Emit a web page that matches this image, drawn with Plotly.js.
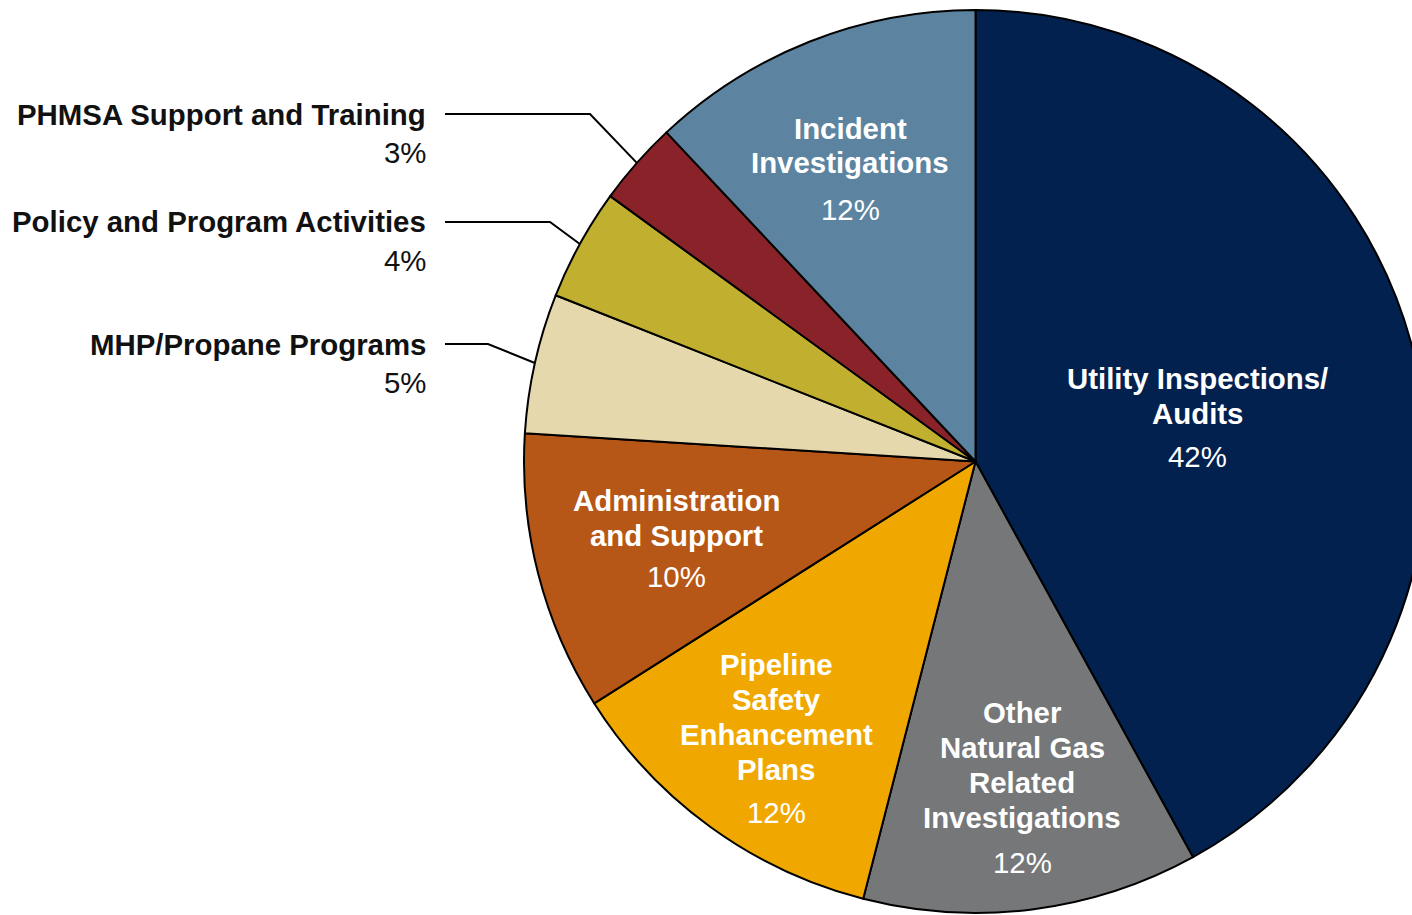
<!DOCTYPE html>
<html><head><meta charset="utf-8">
<script src="https://cdn.plot.ly/plotly-3.0.1.min.js"></script>
<style>html,body{margin:0;padding:0;overflow:hidden;background:#fff}#chart{width:1430px;height:915px}</style>
</head><body><div id="chart"></div>
<script>
// ---- data ----
const categories = ["Utility Inspections/ Audits", "Other Natural Gas Related Investigations", "Pipeline Safety Enhancement Plans", "Administration and Support", "MHP/Propane Programs", "Policy and Program Activities", "PHMSA Support and Training", "Incident Investigations"];
const labelLines = [["Utility Inspections/", "Audits"], ["Other", "Natural Gas", "Related", "Investigations"], ["Pipeline", "Safety", "Enhancement", "Plans"], ["Administration", "and Support"], ["MHP/Propane Programs"], ["Policy and Program Activities"], ["PHMSA Support and Training"], ["Incident", "Investigations"]];
const values = [42, 12, 12, 10, 5, 4, 3, 12];

// ---- styles / positions ----
const colors = ["#03214f", "#767779", "#f0a800", "#b75717", "#e6d8ad", "#c1b02f", "#8a2329", "#5c84a0"];
const labelPos = [
  {inside: true, x: 1197, y: 378, gap: 43},
  {inside: true, x: 1022, y: 712, gap: 45},
  {inside: true, x: 776, y: 664, gap: 43},
  {inside: true, x: 676, y: 500, gap: 41},
  {inside: false, x: 428, y: 344, elbowX: 488, gap: 38},
  {inside: false, x: 428, y: 222, elbowX: 550, gap: 38},
  {inside: false, x: 428, y: 114, elbowX: 590, gap: 38},
  {inside: true, x: 850, y: 128, gap: 46}
];
const W = 1430, H = 915;
const cx = 975.5, cy = 461.5, R = 451.5;
const FS = 29.4, LINE = 35;
const FONT = "Liberation Sans, Arial, sans-serif";

const px = x => x / W;
const py = y => 1 - y / H;

const total = values.reduce((a, b) => a + b, 0);
const annotations = [];
const shapes = [];
let cum = 0;
values.forEach((v, i) => {
  const mid = (cum + v / 2) / total;
  cum += v;
  const p = labelPos[i];
  const col = p.inside ? "#ffffff" : "#111111";
  const lines = labelLines[i];
  lines.forEach((t, k) => {
    annotations.push({
      x: px(p.x), y: py(p.y + k * LINE), xref: "paper", yref: "paper",
      text: "<b>" + t + "</b>", showarrow: false,
      xanchor: p.inside ? "center" : "right", yanchor: "middle",
      font: {family: FONT, size: FS, color: col}
    });
  });
  const pctY = p.y + (lines.length - 1) * LINE + p.gap;
  annotations.push({
    x: px(p.x), y: py(pctY), xref: "paper", yref: "paper",
    text: v + "%", showarrow: false,
    xanchor: p.inside ? "center" : "right", yanchor: "middle",
    font: {family: FONT, size: FS, color: col}
  });
  if (!p.inside) {
    const th = 2 * Math.PI * mid;
    const ex = cx + R * Math.sin(th), ey = cy - R * Math.cos(th);
    const x0 = p.x + 17;
    shapes.push({
      type: "path", xref: "paper", yref: "paper",
      path: `M ${px(x0)},${py(p.y)} L ${px(p.elbowX)},${py(p.y)} L ${px(ex)},${py(ey)}`,
      line: {color: "#000000", width: 2}
    });
  }
});

const trace = {
  type: "pie",
  labels: categories,
  values: values,
  sort: false,
  direction: "clockwise",
  rotation: 0,
  textinfo: "none",
  hoverinfo: "label+percent",
  marker: {colors: colors, line: {color: "#000000", width: 2}},
  domain: {x: [px(cx - R), px(cx + R)], y: [py(cy + R), py(cy - R)]},
  showlegend: false
};

const layout = {
  width: W, height: H,
  margin: {l: 0, r: 0, t: 0, b: 0},
  paper_bgcolor: "#ffffff",
  showlegend: false,
  annotations: annotations,
  shapes: shapes
};

Plotly.newPlot("chart", [trace], layout, {displayModeBar: false, staticPlot: true});
</script>
</body></html>
